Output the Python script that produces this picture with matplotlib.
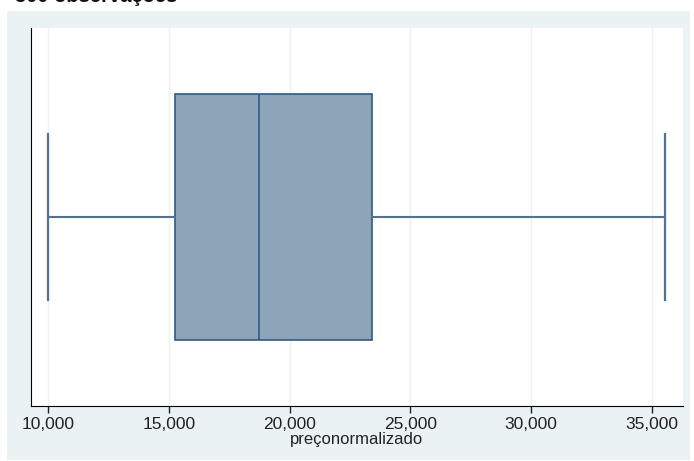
import matplotlib
matplotlib.use('Agg')
import matplotlib.pyplot as plt
from matplotlib.patches import Rectangle
from matplotlib.ticker import FuncFormatter

variavel = 'preçonormalizado'
minimo = 10000
q1 = 15250
mediana = 18740
q3 = 23410
maximo = 35540
xticks = [10000, 15000, 20000, 25000, 30000, 35000]

plt.rcParams['font.family'] = ['Liberation Sans', 'DejaVu Sans']

fig = plt.figure(figsize=(6.94, 4.61), dpi=100)
fig.patch.set_facecolor('white')

# fundo azulado estilo Stata
fig.patches.append(Rectangle((7 / 694, 1 - 460 / 461), 683 / 694, 449 / 461,
                             transform=fig.transFigure, facecolor='#eaf2f3',
                             edgecolor='none', zorder=-10))

# titulo cortado no topo (como na imagem original)
fig.text(15 / 694, 1 - 2 / 461, '500 observações', fontsize=14.5, fontweight='bold',
         va='baseline', ha='left', color='#111111')

ax = fig.add_axes([30.7 / 694, 1 - 406 / 461, 652 / 694, 378 / 461])
ax.set_facecolor('white')

stats = [{'med': mediana, 'q1': q1, 'q3': q3, 'whislo': minimo, 'whishi': maximo, 'fliers': []}]
ax.bxp(stats, positions=[0.5], widths=[0.65], capwidths=[0.44], orientation='horizontal',
       patch_artist=True, showfliers=False,
       boxprops=dict(facecolor='#8ea4b9', edgecolor='#2f5a86', linewidth=1.2),
       medianprops=dict(color='#2f5a86', linewidth=1.2),
       whiskerprops=dict(color='#4f7396', linewidth=1.5),
       capprops=dict(color='#4f7396', linewidth=1.6))

ax.set_xlim(9271, 36280)
ax.set_ylim(0, 1)
ax.set_xticks(xticks)
ax.xaxis.set_major_formatter(FuncFormatter(lambda v, p: f'{v:,.0f}'))
ax.set_yticks([])
ax.grid(axis='x', color='#eaf2f3', linewidth=1)
ax.set_axisbelow(True)

for s in ['top', 'right']:
    ax.spines[s].set_visible(False)
ax.spines['left'].set_color('black')
ax.spines['bottom'].set_color('black')

ax.tick_params(axis='x', length=5, width=1, color='#222222', labelsize=12.5,
               labelcolor='#222222', pad=3)
ax.set_xlabel(variavel, fontsize=12, color='#222222', labelpad=0)

fig.savefig('out.png', dpi=100)
